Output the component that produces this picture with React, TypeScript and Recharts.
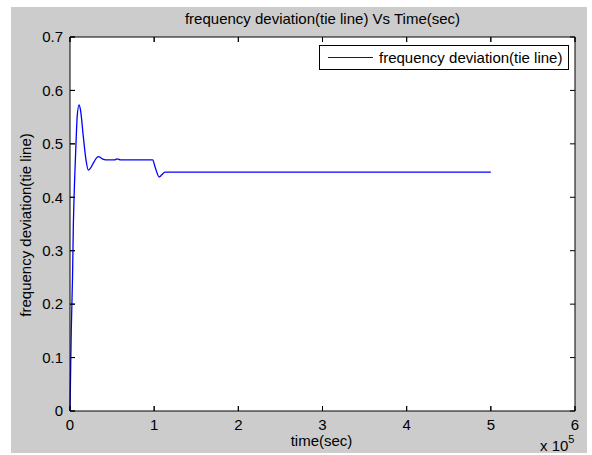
import React from "react";
import { LineChart, Line, XAxis, YAxis, Legend, ReferenceLine } from "recharts";

const timeSec = [0, 500, 1500, 3000, 4000, 4800, 5900, 7100, 8500, 10700, 12500, 15800, 19000, 21700, 24500, 27700, 33600, 39600, 45000, 53000, 56000, 60000, 98200, 101000, 106000, 109000, 112800, 120000, 500000];
const freqDev = [0, 0.05, 0.15, 0.25, 0.35, 0.4, 0.45, 0.5, 0.55, 0.573, 0.563, 0.514, 0.47, 0.451, 0.455, 0.464, 0.476, 0.471, 0.47, 0.47, 0.472, 0.47, 0.47, 0.457, 0.438, 0.442, 0.447, 0.447, 0.447];
const xTicks = [0, 100000, 200000, 300000, 400000, 500000, 600000];
const yTicks = [0, 0.1, 0.2, 0.3, 0.4, 0.5, 0.6, 0.7];
const seriesName = "frequency deviation(tie line)";
const titleText = "frequency deviation(tie line) Vs Time(sec)";
const xLabelText = "time(sec)";
const yLabelText = "frequency deviation(tie line)";

const data = timeSec.map((t, i) => ({ t, v: freqDev[i] }));

const FONT = "'Liberation Sans', Arial, sans-serif";
const FS = 15;
const TL = 5;
const tickStyle = { fill: "#000", fontSize: FS, fontFamily: FONT };
const noLabel = () => "";

const VTickShape = (p: any) => {
  const x1 = Number(p.x1), y1 = Number(p.y1), x2 = Number(p.x2), y2 = Number(p.y2);
  const d = y2 >= y1 ? 1 : -1;
  return (
    <path d={`M${x1},${y1}L${x1},${y1 + d * TL}M${x2},${y2}L${x2},${y2 - d * TL}`} stroke="#000" strokeWidth={1} fill="none" />
  );
};
const HTickShape = (p: any) => {
  const x1 = Number(p.x1), y1 = Number(p.y1), x2 = Number(p.x2), y2 = Number(p.y2);
  const d = x2 >= x1 ? 1 : -1;
  return (
    <path d={`M${x1},${y1}L${x1 + d * TL},${y1}M${x2},${y2}L${x2 - d * TL},${y2}`} stroke="#000" strokeWidth={1} fill="none" />
  );
};

const LegendBox = () => (
  <div
    style={{
      width: 250,
      height: 25,
      border: "1px solid #000",
      background: "#fff",
      display: "flex",
      alignItems: "center",
      fontFamily: FONT,
      fontSize: FS,
      boxSizing: "border-box",
      whiteSpace: "nowrap",
    }}
  >
    <div style={{ width: 45, height: 0, borderTop: "1px solid #0000ff", marginLeft: 8, marginRight: 6 }} />
    <span>{seriesName}</span>
  </div>
);

export default function App() {
  return (
    <div style={{ position: "absolute", left: 0, top: 0, width: 592, height: 455, background: "#fff", overflow: "hidden" }}>
      <div style={{ position: "absolute", left: 11, top: 7, width: 576, height: 446, background: "#cccccc" }} />
      <div style={{ position: "absolute", left: 70, top: 37, width: 505, height: 374, background: "#fff" }} />
      <div style={{ position: "absolute", left: 0, top: 0 }}>
        <LineChart width={592} height={455} data={data} margin={{ top: 36, right: 16, bottom: 14, left: 20 }}>
          <XAxis dataKey="t" type="number" domain={[0, 600000]} ticks={xTicks} xAxisId="b" height={30}
            axisLine={{ stroke: "#000" }} tickLine={{ stroke: "#000" }} tickSize={-5} tickMargin={13}
            tick={tickStyle} tickFormatter={(v: number) => String(v / 100000)} interval={0} />
          <XAxis dataKey="t" type="number" domain={[0, 600000]} ticks={xTicks} xAxisId="t" orientation="top" height={1}
            axisLine={{ stroke: "#000" }} tickLine={{ stroke: "#000" }} tickSize={-5} tickMargin={0}
            tick={tickStyle} tickFormatter={noLabel} interval={0} />
          <YAxis type="number" domain={[0, 0.7]} ticks={yTicks} yAxisId="l" width={50}
            axisLine={{ stroke: "#000" }} tickLine={{ stroke: "#000" }} tickSize={-5} tickMargin={12}
            tick={tickStyle} interval={0} />
          <YAxis type="number" domain={[0, 0.7]} ticks={yTicks} yAxisId="r" orientation="right" width={1}
            axisLine={{ stroke: "#000" }} tickLine={{ stroke: "#000" }} tickSize={-5} tickMargin={0}
            tick={tickStyle} tickFormatter={noLabel} interval={0} />
          {xTicks.map((v) => (
            <ReferenceLine key={`vx${v}`} xAxisId="b" yAxisId="l" x={v} stroke="#000" ifOverflow="visible" shape={VTickShape} />
          ))}
          {yTicks.map((v) => (
            <ReferenceLine key={`hy${v}`} xAxisId="b" yAxisId="l" y={v} stroke="#000" ifOverflow="visible" shape={HTickShape} />
          ))}
          <Line xAxisId="b" yAxisId="l" dataKey="v" name={seriesName} type="monotone" stroke="#0000ff" strokeWidth={1.3}
            dot={false} isAnimationActive={false} />
          <Legend content={<LegendBox />} layout="horizontal" verticalAlign="middle" align="center"
            wrapperStyle={{ position: "absolute", left: 319, top: 45, width: 250 }} />
        </LineChart>
      </div>
      <div style={{ position: "absolute", left: 0, width: 645, top: 10, textAlign: "center", fontFamily: FONT, fontSize: FS, whiteSpace: "nowrap" }}>{titleText}</div>
      <div style={{ position: "absolute", left: 0, width: 643, top: 433, textAlign: "center", fontFamily: FONT, fontSize: FS, lineHeight: "16px" }}>{xLabelText}</div>
      <div style={{ position: "absolute", left: 540, top: 437, fontFamily: FONT, fontSize: FS, whiteSpace: "nowrap", lineHeight: "17px" }}>
        x 10<span style={{ fontSize: 11, position: "relative", top: -8 }}>5</span>
      </div>
      <div style={{ position: "absolute", left: 25, top: 225, width: 0, height: 0 }}>
        <div style={{ position: "absolute", transform: "translate(-50%, -50%) rotate(-90deg)", whiteSpace: "nowrap", fontFamily: FONT, fontSize: FS }}>
          {yLabelText}
        </div>
      </div>
    </div>
  );
}
